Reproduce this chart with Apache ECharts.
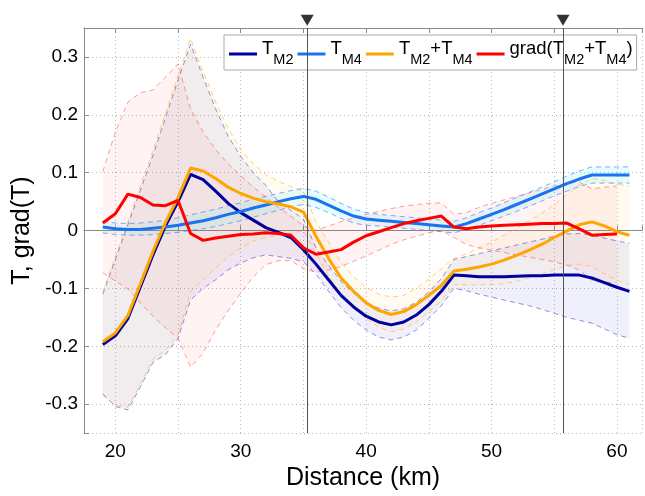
<!DOCTYPE html>
<html>
<head>
<meta charset="utf-8">
<script src="https://cdn.jsdelivr.net/npm/echarts@6/dist/echarts.min.js"></script>
<style>
  html, body { margin: 0; padding: 0; background: #fff; }
  #chart { width: 645px; height: 496px; }
</style>
</head>
<body>
<div id="chart"></div>
<script>
// distance along the section (km)
var dist = [19, 20, 21, 22, 23, 24, 25, 26, 27, 28, 29, 30, 31, 32, 33, 34, 35, 36, 37, 38, 39, 40,
    41, 42, 43, 44, 45, 46, 47, 48, 49, 50, 51, 52, 53, 54, 55, 56, 57, 58, 59, 60, 61];

// T_M2
var tM2 = [-0.197, -0.182, -0.152, -0.097, -0.042, 0.008, 0.05, 0.097, 0.088, 0.068, 0.047, 0.031, 0.018,
    0.005, -0.003, -0.012, -0.033, -0.058, -0.085, -0.112, -0.132, -0.148, -0.158, -0.163, -0.158, -0.146,
    -0.128, -0.105, -0.077, -0.078, -0.08, -0.08, -0.08, -0.079, -0.078, -0.078, -0.077, -0.077, -0.077,
    -0.082, -0.09, -0.098, -0.105];
var tM2Up = [-0.11, -0.05, 0.01, 0.07, 0.13, 0.195, 0.26, 0.322, 0.265, 0.21, 0.163, 0.128, 0.1, 0.078,
    0.05, 0.035, 0.02, -0.03, -0.06, -0.088, -0.108, -0.124, -0.134, -0.139, -0.135, -0.124, -0.106, -0.083,
    -0.05, -0.045, -0.04, -0.035, -0.03, -0.025, -0.02, -0.015, -0.01, -0.006, -0.005, -0.008, -0.013,
    -0.018, -0.022];
var tM2Lo = [-0.282, -0.304, -0.31, -0.27, -0.228, -0.214, -0.186, -0.12, -0.1, -0.085, -0.068, -0.056,
    -0.047, -0.042, -0.045, -0.048, -0.054, -0.075, -0.105, -0.133, -0.155, -0.172, -0.184, -0.189, -0.184,
    -0.172, -0.152, -0.13, -0.1, -0.104, -0.11, -0.115, -0.12, -0.125, -0.13, -0.136, -0.143, -0.15, -0.155,
    -0.16, -0.17, -0.18, -0.186];

// T_M4
var tM4 = [0.006, 0.003, 0.002, 0.002, 0.004, 0.006, 0.009, 0.013, 0.017, 0.022, 0.028, 0.033, 0.039,
    0.044, 0.05, 0.055, 0.059, 0.054, 0.044, 0.034, 0.025, 0.02, 0.018, 0.016, 0.014, 0.012, 0.01, 0.008,
    0.006, 0.012, 0.02, 0.028, 0.036, 0.045, 0.054, 0.063, 0.072, 0.081, 0.089, 0.096, 0.096, 0.096, 0.096];
var tM4Up = [0.016, 0.013, 0.012, 0.013, 0.015, 0.018, 0.022, 0.027, 0.032, 0.037, 0.043, 0.048, 0.054,
    0.059, 0.064, 0.069, 0.073, 0.068, 0.058, 0.047, 0.037, 0.031, 0.028, 0.026, 0.024, 0.022, 0.02, 0.018,
    0.016, 0.022, 0.031, 0.039, 0.048, 0.057, 0.066, 0.075, 0.084, 0.094, 0.103, 0.11, 0.11, 0.11, 0.11];
var tM4Lo = [-0.004, -0.007, -0.008, -0.008, -0.007, -0.005, -0.003, 0.0, 0.003, 0.007, 0.012, 0.017,
    0.023, 0.029, 0.035, 0.041, 0.045, 0.04, 0.031, 0.021, 0.013, 0.009, 0.008, 0.006, 0.004, 0.002, 0.0,
    -0.002, -0.004, 0.002, 0.009, 0.017, 0.025, 0.033, 0.042, 0.051, 0.06, 0.068, 0.076, 0.082, 0.082,
    0.082, 0.082];

// T_M2 + T_M4
var tSum = [-0.192, -0.177, -0.147, -0.092, -0.036, 0.014, 0.057, 0.108, 0.103, 0.09, 0.075, 0.064, 0.056,
    0.05, 0.046, 0.041, 0.032, -0.01, -0.048, -0.082, -0.105, -0.125, -0.138, -0.145, -0.14, -0.128, -0.112,
    -0.095, -0.07, -0.067, -0.063, -0.058, -0.051, -0.043, -0.034, -0.024, -0.012, -0.001, 0.01, 0.015,
    0.008, -0.002, -0.008];
var tSumUp = [-0.105, -0.045, 0.015, 0.077, 0.138, 0.203, 0.268, 0.332, 0.275, 0.222, 0.176, 0.14, 0.115,
    0.097, 0.085, 0.076, 0.068, 0.015, -0.02, -0.055, -0.08, -0.098, -0.11, -0.115, -0.112, -0.1, -0.084,
    -0.066, -0.048, -0.04, -0.03, -0.02, -0.008, 0.004, 0.017, 0.03, 0.045, 0.062, 0.078, 0.09, 0.087, 0.08,
    0.077];
var tSumLo = [-0.285, -0.302, -0.305, -0.265, -0.222, -0.207, -0.18, -0.105, -0.085, -0.065, -0.045, -0.03,
    -0.018, -0.012, -0.008, -0.005, 0.0, -0.04, -0.078, -0.11, -0.132, -0.152, -0.167, -0.175, -0.17, -0.158,
    -0.14, -0.122, -0.093, -0.094, -0.094, -0.093, -0.092, -0.088, -0.082, -0.075, -0.068, -0.06, -0.058,
    -0.062, -0.075, -0.086, -0.093];

// grad(T_M2 + T_M4), 19..60 km
var grad = [0.013, 0.029, 0.063, 0.057, 0.044, 0.043, 0.052, -0.005, -0.017, -0.013, -0.01, -0.007, -0.006,
    -0.004, -0.005, -0.008, -0.03, -0.041, -0.037, -0.033, -0.02, -0.009, -0.002, 0.005, 0.012, 0.017, 0.021,
    0.025, 0.006, 0.003, 0.006, 0.008, 0.009, 0.01, 0.011, 0.012, 0.012, 0.013, 0.003, -0.008, -0.007, -0.006];
var gradUp = [0.102, 0.17, 0.222, 0.238, 0.243, 0.265, 0.288, 0.21, 0.17, 0.14, 0.115, 0.095, 0.075, 0.058,
    0.04, 0.025, 0.008, 0.0, 0.008, 0.015, 0.022, 0.028, 0.033, 0.038, 0.042, 0.045, 0.047, 0.048, 0.028,
    0.031, 0.04, 0.047, 0.053, 0.059, 0.065, 0.071, 0.077, 0.082, 0.084, 0.072, 0.075, 0.077];
var gradLo = [-0.073, -0.087, -0.101, -0.125, -0.148, -0.168, -0.186, -0.236, -0.212, -0.172, -0.138, -0.108,
    -0.08, -0.059, -0.052, -0.052, -0.066, -0.072, -0.068, -0.062, -0.053, -0.044, -0.034, -0.024, -0.016,
    -0.01, -0.004, 0.0, -0.012, -0.024, -0.03, -0.034, -0.038, -0.042, -0.046, -0.05, -0.054, -0.06, -0.068,
    -0.086, -0.089, -0.09];

// marked positions (km)
var marks = [35.3, 55.7];
var markY = 0.3635;

var names = ['TM2', 'TM4', 'TM2+TM4', 'grad(TM2+TM4)'];
var legendText = ['{t|T}{s|M2}', '{t|T}{s|M4}', '{t|T}{s|M2}{t|+T}{s|M4}', '{t|grad(T}{s|M2}{t|+T}{s|M4}{t|)}'];
var colors = ['#0000A0', '#1A72F0', '#FFA500', '#FF0000'];
var dashColors = ['rgba(40,40,190,0.5)', 'rgba(40,120,255,0.6)', 'rgba(255,175,40,0.6)', 'rgba(255,60,60,0.5)'];
var fills = ['rgba(40,40,220,0.07)', 'rgba(60,240,255,0.13)', 'rgba(255,200,60,0.07)', 'rgba(255,50,50,0.06)'];

function pts(arr) {
    return arr.map(function(v, i) { return [dist[i], v]; });
}

function band(k, lo, up) {
    return [{
        type: 'custom',
        data: pts(lo),
        encode: { x: 0, y: 1 },
        silent: true,
        z: 1,
        animation: false,
        renderItem: function(params, api) {
            if (params.dataIndex !== 0) return null;
            var p = [];
            for (var i = 0; i < up.length; i++) p.push(api.coord([dist[i], up[i]]));
            for (var j = lo.length - 1; j >= 0; j--) p.push(api.coord([dist[j], lo[j]]));
            return { type: 'polygon', shape: { points: p }, style: { fill: fills[k] } };
        }
    }, {
        type: 'line', data: pts(lo), symbol: 'none', silent: true, z: 2, animation: false,
        lineStyle: { color: dashColors[k], width: 1, type: [5, 4] }
    }, {
        type: 'line', data: pts(up), symbol: 'none', silent: true, z: 2, animation: false,
        lineStyle: { color: dashColors[k], width: 1, type: [5, 4] }
    }];
}

var series = [];
series = series.concat(band(0, tM2Lo, tM2Up));
series = series.concat(band(1, tM4Lo, tM4Up));
series = series.concat(band(2, tSumLo, tSumUp));
series = series.concat(band(3, gradLo, gradUp));

var mains = [tM2, tM4, tSum, grad];
for (var i = 0; i < mains.length; i++) {
    series.push({
        name: names[i],
        type: 'line',
        data: pts(mains[i]),
        symbol: 'none',
        z: 3,
        color: colors[i],
        lineStyle: { color: colors[i], width: 3 },
        animation: false
    });
}

series.push({
    type: 'line',
    data: [],
    silent: true,
    markLine: {
        silent: true,
        symbol: 'none',
        label: { show: false },
        lineStyle: { color: '#555', width: 1, type: 'solid' },
        data: marks.map(function(m) { return { xAxis: m }; })
    },
    animation: false
});
series.push({
    type: 'scatter',
    data: marks.map(function(m) { return [m, markY]; }),
    symbol: 'triangle',
    symbolRotate: 180,
    symbolSize: [13, 11],
    itemStyle: { color: '#000' },
    clip: false,
    silent: true,
    z: 5,
    animation: false
});

var font = 'Liberation Sans, Arial, sans-serif';
var chart = echarts.init(document.getElementById('chart'));
chart.setOption({
    animation: false,
    backgroundColor: '#fff',
    grid: { left: 84, right: 0, top: 28, bottom: 54 },
    legend: {
        data: names,
        left: 224,
        top: 35,
        width: 421,
        orient: 'horizontal',
        icon: 'rect',
        itemWidth: 28,
        itemHeight: 3,
        itemGap: 4,
        padding: [4, 4, 3, 5],
        backgroundColor: '#fff',
        borderColor: '#aaa',
        borderWidth: 1,
        borderRadius: 0,
        formatter: function(n) { return legendText[names.indexOf(n)]; },
        textStyle: {
            color: '#000',
            fontFamily: font,
            rich: {
                t: { fontSize: 18.5, lineHeight: 30, verticalAlign: 'top', fontFamily: font, color: '#000' },
                s: { fontSize: 14.5, lineHeight: 15, verticalAlign: 'top', padding: [13, 0, 0, 0], fontFamily: font, color: '#000' }
            }
        }
    },
    xAxis: [{
        type: 'value',
        min: 17.5,
        max: 62,
        splitNumber: 9,
        name: 'Distance (km)',
        nameLocation: 'middle',
        nameGap: 26,
        nameTextStyle: { fontSize: 25, color: '#000', fontFamily: font },
        axisLine: { show: true, lineStyle: { color: '#888' } },
        axisTick: { show: true, inside: true, length: 5, lineStyle: { color: '#888' } },
        axisLabel: {
            fontSize: 19, color: '#000', fontFamily: font, margin: 9,
            formatter: function(v) { return Math.abs(v % 10) < 1e-6 ? String(v) : ''; }
        },
        splitLine: { show: true, lineStyle: { color: '#b8b8b8', type: [1, 3] } }
    }, {
        type: 'value',
        position: 'top',
        min: 17.5,
        max: 62,
        splitNumber: 9,
        axisLine: { show: true, lineStyle: { color: '#888' } },
        axisTick: { show: true, inside: true, length: 5, lineStyle: { color: '#888' } },
        axisLabel: { show: false },
        splitLine: { show: false }
    }],
    yAxis: {
        type: 'value',
        min: -0.35,
        max: 0.35,
        splitNumber: 7,
        name: 'T, grad(T)',
        nameLocation: 'middle',
        nameGap: 35,
        nameTextStyle: { fontSize: 25, color: '#000', fontFamily: font },
        axisLine: { show: true, lineStyle: { color: '#888' } },
        axisTick: { show: true, inside: true, length: 5, lineStyle: { color: '#888' } },
        axisLabel: {
            fontSize: 19, color: '#000', fontFamily: font, margin: 6,
            formatter: function(v) {
                if (Math.abs(v) > 0.31) return '';
                var r = Math.round(v * 10) / 10;
                return r === 0 ? '0' : String(r);
            }
        },
        splitLine: { show: true, lineStyle: { color: '#b8b8b8', type: [1, 3] } }
    },
    series: series
});
</script>
</body>
</html>
